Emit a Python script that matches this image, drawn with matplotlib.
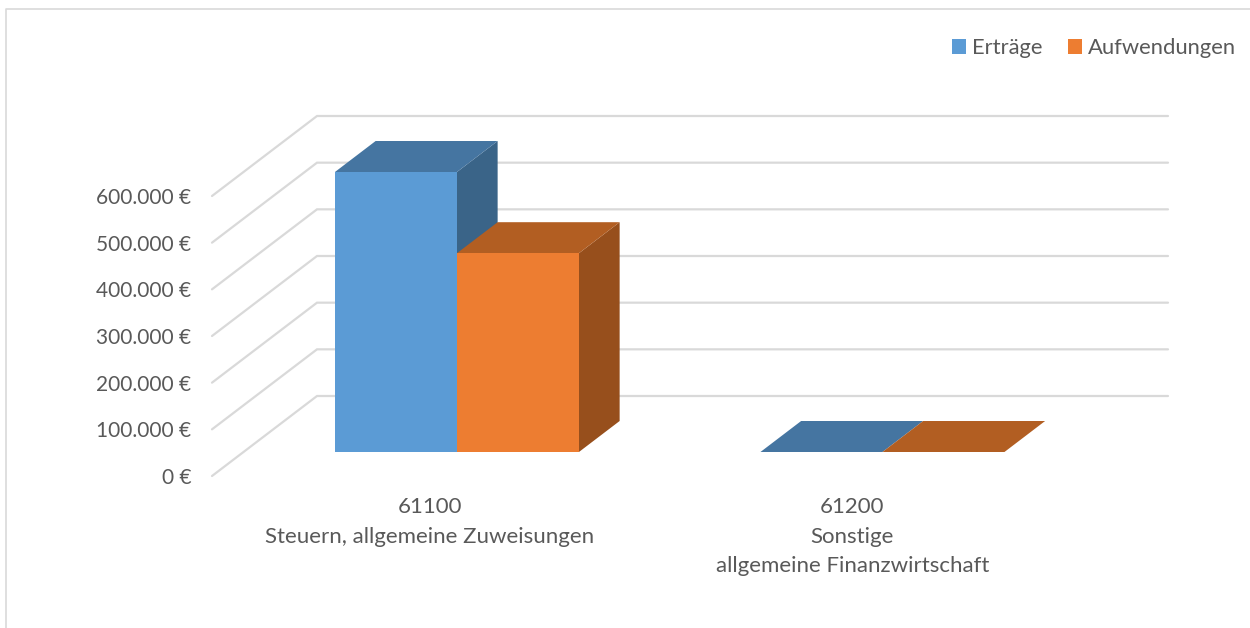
import matplotlib
matplotlib.use("Agg")
import matplotlib.pyplot as plt
from matplotlib.patches import Polygon, Patch
from matplotlib.lines import Line2D

categories = ["61100\nSteuern, allgemeine Zuweisungen", "61200\nSonstige\nallgemeine Finanzwirtschaft"]
series_names = ["Erträge", "Aufwendungen"]
ertraege = [600000, 0]
aufwendungen = [426000, 0]
y_ticks = [0, 100000, 200000, 300000, 400000, 500000, 600000]
y_labels = ["0 €", "100.000 €", "200.000 €", "300.000 €", "400.000 €", "500.000 €", "600.000 €"]

W, H = 1250, 628
FONT = "Lato"
TXT = "#595959"
GRID = "#D9D9D9"
front = ["#5B9BD5", "#ED7D31"]
top = ["#4575A1", "#B25E22"]
side = ["#3A6488", "#974F1C"]

fig = plt.figure(figsize=(W / 100, H / 100), dpi=100, facecolor="white")
L, R, B, T = 212, 1063, 476, 196
ax = fig.add_axes([L / W, 1 - B / H, (R - L) / W, (B - T) / H])
ax.set_xlim(0, 2)
ax.set_ylim(0, 600000)
ax.patch.set_visible(False)
for s in ax.spines.values():
    s.set_visible(False)

# oblique depth vector of the chart box, in data units
px_x = 2 / (R - L)
px_y = 600000 / (B - T)
DX, DY = 105 * px_x, 80 * px_y


def proj(x, v, d):
    return (x + d * DX, v + d * DY)


for v in y_ticks:
    pts = [proj(0, v, 0), proj(0, v, 1), proj(2, v, 1)]
    ax.plot(*zip(*pts), color=GRID, lw=1.6, zorder=1, clip_on=False,
            solid_capstyle="round", solid_joinstyle="miter")

D0, D1 = 0.3, 0.6875
BW = 122 * px_x
for i, vals in enumerate([ertraege, aufwendungen]):
    z = 3 + i
    for c, v in enumerate(vals):
        x0 = c + 0.5 - BW + i * BW + 0.7 * px_x
        x1 = x0 + BW
        f = [proj(x0, 0, D0), proj(x1, 0, D0), proj(x1, v, D0), proj(x0, v, D0)]
        t = [proj(x0, v, D0), proj(x1, v, D0), proj(x1, v, D1), proj(x0, v, D1)]
        s = [proj(x1, 0, D0), proj(x1, 0, D1), proj(x1, v, D1), proj(x1, v, D0)]
        for pts, col in ((s, side[i]), (t, top[i]), (f, front[i])):
            ax.add_patch(Polygon(pts, closed=True, facecolor=col, edgecolor="none",
                                 lw=0, zorder=z, clip_on=False))

ax.set_yticks(y_ticks)
ax.set_yticklabels(y_labels, fontsize=15, color=TXT, family=FONT)
ax.set_xticks([0.512, 1.505])
ax.set_xticklabels(categories, fontsize=16, color=TXT, family=FONT, linespacing=1.6, ha="center")
ax.tick_params(axis="both", length=0)
ax.tick_params(axis="y", pad=15)
ax.tick_params(axis="x", pad=15.2)

handles = [Patch(facecolor=front[0], edgecolor="none"), Patch(facecolor=front[1], edgecolor="none")]
fig.legend(handles, series_names, loc="upper left", bbox_to_anchor=(952 / W, 1 - 38 / H), ncol=2,
           frameon=False, prop={"family": FONT, "size": 15.8}, labelcolor=TXT,
           handlelength=0.64, handleheight=0.64, handletextpad=0.27, columnspacing=1.17,
           borderpad=0, borderaxespad=0)

# outer chart frame
fig.add_artist(Line2D([6 / W, 6 / W, 1], [0, 1 - 8.5 / H, 1 - 8.5 / H], color=GRID, lw=1.2,
                      transform=fig.transFigure))

fig.savefig("out.png", dpi=100, facecolor="white")
